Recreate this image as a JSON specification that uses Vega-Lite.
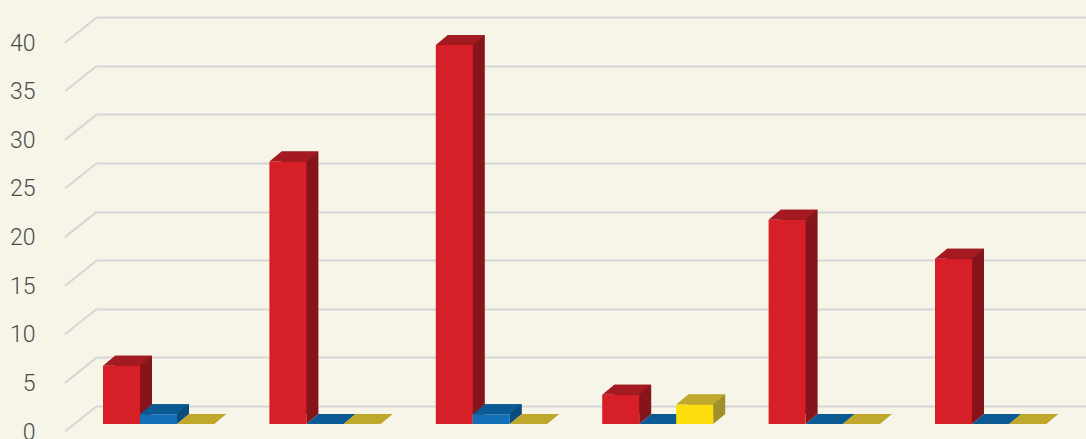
{"$schema":"https://vega.github.io/schema/vega-lite/v6.json","width":989,"height":439,"autosize":{"type":"none"},"padding":{"left":97,"top":0,"right":0,"bottom":0},"background":"#f6f5e7","view":{"stroke":null},
"datasets":{"bars":[
{"group":1,"series":"A","value":6},{"group":2,"series":"A","value":27},{"group":3,"series":"A","value":39},{"group":4,"series":"A","value":3},{"group":5,"series":"A","value":21},{"group":6,"series":"A","value":17},
{"group":1,"series":"B","value":1},{"group":2,"series":"B","value":0},{"group":3,"series":"B","value":1},{"group":4,"series":"B","value":0},{"group":5,"series":"B","value":0},{"group":6,"series":"B","value":0},
{"group":1,"series":"C","value":0},{"group":2,"series":"C","value":0},{"group":3,"series":"C","value":0},{"group":4,"series":"C","value":2},{"group":5,"series":"C","value":0},{"group":6,"series":"C","value":0}],
"ticks":[{"tick":0,"edge":0.5342},{"tick":5,"edge":0.5342},{"tick":10,"edge":0.5342},{"tick":15,"edge":0.5342},{"tick":20,"edge":0.5342},{"tick":25,"edge":0.5342},{"tick":30,"edge":0.5342},{"tick":35,"edge":0.5342},{"tick":40,"edge":0.5342}]},
"data":{"name":"bars"},
"encoding":{
"x":{"field":"group","type":"quantitative","scale":{"domain":[0.6304,6.5739],"nice":false,"zero":false,"padding":0},"axis":null},
"y":{"field":"value","type":"quantitative","scale":{"domain":[-1.543,43.62],"nice":false,"zero":false,"padding":0},"axis":{"title":null,"values":[0,5,10,15,20,25,30,35,40],"grid":true,"gridColor":"#d5d6d7","gridWidth":2,"gridOpacity":1,"domain":false,"ticks":false,"tickOffset":-18,"labelOffset":26,"labelPadding":62,"labelFont":"Roboto","labelFontWeight":300,"labelFontSize":23,"labelColor":"#4a4b4d","labelBaseline":"middle","labelOverlap":false,"labelBound":false,"labelFlush":false}}},
"layer":[
{"data":{"name":"ticks"},"mark":{"type":"point","filled":false,"opacity":1,"size":4,"stroke":"#d5d6d7","strokeWidth":2,"yOffset":-5.25,"shape":"M-16,12.75L16,-12.75"},"encoding":{"x":{"field":"edge","type":"quantitative"},"y":{"field":"tick","type":"quantitative"}}},

{"transform":[{"filter":"datum.series==='A'"}],"mark":{"type":"point","filled":true,"opacity":1,"strokeWidth":0,"size":4,"color":"#85151a","xOffset":-37,"shape":"M18.5,0L30.5,-10L18.5,-10Z"},"encoding":{"y":{"datum":0}}},
{"transform":[{"filter":"datum.series==='A'"}],"mark":{"type":"bar","width":37,"color":"#85151a","xOffset":-25,"yOffset":-10,"y2Offset":-10},"encoding":{"y2":{"datum":0}}},
{"transform":[{"filter":"datum.series==='A'"}],"mark":{"type":"bar","width":37,"color":"#d71f27","xOffset":-37},"encoding":{"y2":{"datum":0}}},
{"transform":[{"filter":"datum.series==='A'"}],"mark":{"type":"point","filled":true,"opacity":1,"strokeWidth":0,"size":4,"color":"#a31b21","xOffset":-37,"shape":"M-18.5,0L18.5,0L30.5,-10L-6.5,-10Z"}},

{"transform":[{"filter":"datum.series==='B'"}],"mark":{"type":"point","filled":true,"opacity":1,"strokeWidth":0,"size":4,"color":"#0a4a7c","shape":"M18.5,0L30.5,-10L18.5,-10Z"},"encoding":{"y":{"datum":0}}},
{"transform":[{"filter":"datum.series==='B'"}],"mark":{"type":"bar","width":37,"color":"#0a4a7c","xOffset":12,"yOffset":-10,"y2Offset":-10},"encoding":{"y2":{"datum":0}}},
{"transform":[{"filter":"datum.series==='B'"}],"mark":{"type":"bar","width":37,"color":"#1270b8"},"encoding":{"y2":{"datum":0}}},
{"transform":[{"filter":"datum.series==='B'"}],"mark":{"type":"point","filled":true,"opacity":1,"strokeWidth":0,"size":4,"color":"#0b5a94","shape":"M-18.5,0L18.5,0L30.5,-10L-6.5,-10Z"}},

{"transform":[{"filter":"datum.series==='C'"}],"mark":{"type":"point","filled":true,"opacity":1,"strokeWidth":0,"size":4,"color":"#a0902c","xOffset":37,"shape":"M18.5,0L30.5,-10L18.5,-10Z"},"encoding":{"y":{"datum":0}}},
{"transform":[{"filter":"datum.series==='C'"}],"mark":{"type":"bar","width":37,"color":"#a0902c","xOffset":49,"yOffset":-10,"y2Offset":-10},"encoding":{"y2":{"datum":0}}},
{"transform":[{"filter":"datum.series==='C'"}],"mark":{"type":"bar","width":37,"color":"#fddd0b","xOffset":37},"encoding":{"y2":{"datum":0}}},
{"transform":[{"filter":"datum.series==='C'"}],"mark":{"type":"point","filled":true,"opacity":1,"strokeWidth":0,"size":4,"color":"#bfa82c","xOffset":37,"shape":"M-18.5,0L18.5,0L30.5,-10L-6.5,-10Z"}}
]}
